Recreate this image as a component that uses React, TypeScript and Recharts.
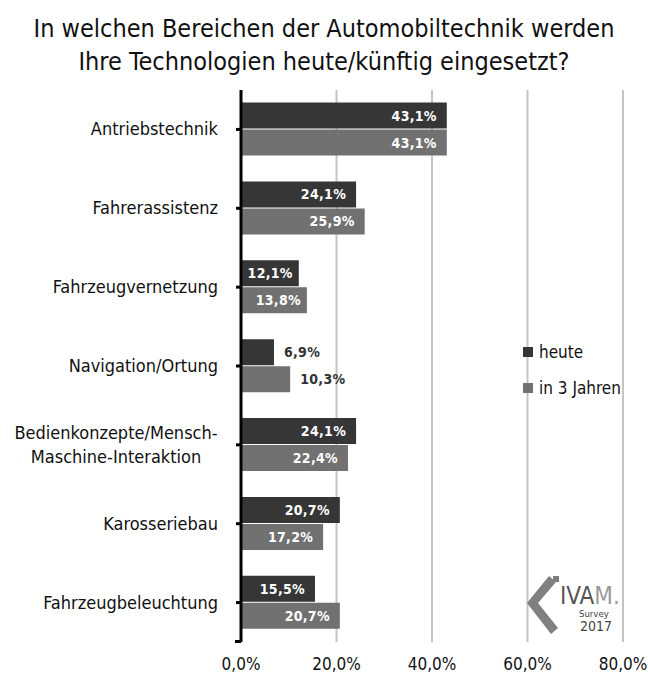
import { Bar, BarChart, CartesianGrid, LabelList, XAxis, YAxis } from "recharts";

document.body.style.margin = "0";

const categories = [
  "Antriebstechnik",
  "Fahrerassistenz",
  "Fahrzeugvernetzung",
  "Navigation/Ortung",
  "Bedienkonzepte/Mensch-Maschine-Interaktion",
  "Karosseriebau",
  "Fahrzeugbeleuchtung",
];
const heute = [43.1, 24.1, 12.1, 6.9, 24.1, 20.7, 15.5];
const in3Jahren = [43.1, 25.9, 13.8, 10.3, 22.4, 17.2, 20.7];
const xTicks = [0, 20, 40, 60, 80];

const data = categories.map((name, i) => ({ name, heute: heute[i], in3: in3Jahren[i] }));

const FONT = "'Liberation Sans Narrow', 'DejaVu Sans Condensed', Roboto, sans-serif";
const DARK = "#363636";
const MID = "#717171";

const pct = (v: number) => v.toFixed(1).replace(".", ",") + "%";

function CategoryTick({ x, y, payload }: any) {
  const text: string = payload.value;
  if (text.length > 25) {
    const cut = text.indexOf("-") + 1;
    return (
      <text x={116} y={y} textAnchor="middle" fontFamily={FONT} fontSize={18} fill="#111">
        <tspan x={116} dy={-6}>{text.slice(0, cut)}</tspan>
        <tspan x={116} dy={24}>{text.slice(cut)}</tspan>
      </text>
    );
  }
  return (
    <text x={x - 16} y={y} dy={6} textAnchor="end" fontFamily={FONT} fontSize={18} fill="#111">
      {text}
    </text>
  );
}

function ValueLabel({ x, y, width, height, value }: any) {
  const inside = width > 52;
  return (
    <text
      x={inside ? x + width - (width < 70 ? 6 : 10) : x + width + 10}
      y={y + height / 2}
      dy={5}
      textAnchor={inside ? "end" : "start"}
      fontFamily={FONT}
      fontWeight="bold"
      fontSize={14}
      letterSpacing={0.3}
      fill={inside ? "#fff" : "#333"}
    >
      {pct(value)}
    </text>
  );
}

const legendItems = [
  { label: "heute", color: DARK },
  { label: "in 3 Jahren", color: MID },
];

export default function App() {
  return (
    <div style={{ position: "relative", width: 648, height: 679, background: "#fff" }}>
      <div
        style={{
          position: "absolute",
          top: 12,
          width: 648,
          textAlign: "center",
          fontFamily: FONT,
          fontSize: 25,
          lineHeight: "33px",
          color: "#111",
        }}
      >
        In welchen Bereichen der Automobiltechnik werden
        <br />
        Ihre Technologien heute/künftig eingesetzt?
      </div>
      <BarChart
        width={648}
        height={679}
        data={data}
        layout="vertical"
        margin={{ top: 90, right: 25, bottom: 0, left: 0 }}
        barCategoryGap="16%"
        barGap={1}
      >
        <CartesianGrid horizontal={false} stroke="#c4c4c4" strokeWidth={2} />
        <XAxis
          type="number"
          domain={[0, 80]}
          ticks={xTicks}
          axisLine={false}
          tickLine={false}
          height={37}
          tickFormatter={(v) => pct(v)}
          tick={{ fill: "#111", fontSize: 17, fontFamily: FONT, dy: 8 }}
        />
        <YAxis
          type="category"
          dataKey="name"
          width={241}
          axisLine={{ stroke: "#000", strokeWidth: 3 }}
          tickLine={{ stroke: "#000", strokeWidth: 3 }}
          tickSize={5}
          tick={<CategoryTick />}
        />
        <Bar dataKey="heute" name="heute" fill={DARK} isAnimationActive={false}>
          <LabelList dataKey="heute" content={<ValueLabel />} />
        </Bar>
        <Bar dataKey="in3" name="in 3 Jahren" fill={MID} isAnimationActive={false}>
          <LabelList dataKey="in3" content={<ValueLabel />} />
        </Bar>
      </BarChart>
      {/* small end tick at the bottom of the category axis */}
      <div style={{ position: "absolute", left: 235, top: 640, width: 6, height: 3, background: "#000" }} />
      <div
        style={{ position: "absolute", left: 523, top: 334, fontFamily: FONT, fontSize: 17, color: "#111" }}
      >
        {legendItems.map((it) => (
          <div key={it.label} style={{ display: "flex", alignItems: "center", height: 36 }}>
            <span style={{ width: 10, height: 10, background: it.color, marginRight: 6 }} />
            {it.label}
          </div>
        ))}
      </div>
      <svg style={{ position: "absolute", left: 525, top: 568 }} width={110} height={72}>
        <path d="M24 8 L2 35 L26 66 L33 60 L13 35 L31 14 Z" fill="#808080" />
        <rect x={28} y={8} width={6} height={6} fill="#808080" />
        <text x={35} y={36} fontFamily={FONT} fontSize={24} fill="#555">
          IVA<tspan fill="#9a9a9a">M.</tspan>
        </text>
        <text x={54} y={49} fontFamily={FONT} fontSize={9.5} fill="#444">Survey</text>
        <text x={55} y={63} fontFamily={FONT} fontSize={14} fill="#444">2017</text>
      </svg>
    </div>
  );
}
